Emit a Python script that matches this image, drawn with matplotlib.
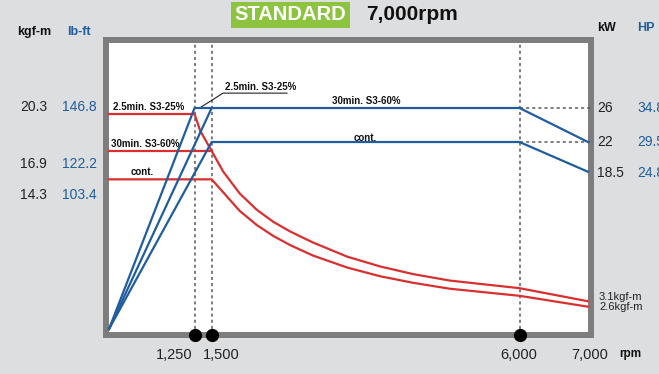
import matplotlib.pyplot as plt

plt.rcParams['font.family'] = ['Liberation Sans', 'DejaVu Sans']

RED = '#d9302f'
BLUE = '#1f5d9e'
GRID = '#5a5a5a'

# torque curves (kgf-m) vs rpm
rpm_s3_25 = [0, 1250, 1330, 1410, 1500, 1670, 1910, 2160, 2400, 2650, 2980, 3480, 3960, 4440, 4980, 6000, 7000]
tq_s3_25 = [20.3, 20.3, 18.8, 17.9, 16.9, 15.0, 13.0, 11.5, 10.4, 9.5, 8.5, 7.2, 6.3, 5.6, 5.0, 4.3, 3.1]
rpm_s3_60 = [0, 1500]
tq_s3_60 = [16.9, 16.9]
rpm_cont = [0, 1500, 1670, 1910, 2160, 2400, 2650, 2980, 3480, 3960, 4440, 4980, 6000, 7000]
tq_cont = [14.3, 14.3, 13.1, 11.4, 10.1, 9.1, 8.25, 7.3, 6.2, 5.4, 4.8, 4.25, 3.6, 2.6]

# power curves (kW) vs rpm
rpm_p_s3_25 = [0, 1250, 6000, 7000]
pw_p_s3_25 = [0, 26, 26, 22]
rpm_p_s3_60 = [0, 1500]
pw_p_s3_60 = [0, 26]
rpm_p_cont = [0, 1500, 6000, 7000]
pw_p_cont = [0, 22, 22, 18.5]

knee_rpm = [1250, 1500, 6000]
knee_labels = ['1,250', '1,500', '6,000']
torque_ticks = ['20.3', '16.9', '14.3']
lbft_ticks = ['146.8', '122.2', '103.4']
kw_ticks = ['26', '22', '18.5']
hp_ticks = ['34.8', '29.5', '24.8']

W, H = 659, 374
fig = plt.figure(figsize=(W / 100, H / 100), dpi=100)
fig.patch.set_facecolor('#dddedf')


def fx(x, y):
    return x / W, 1 - y / H


ax = fig.add_axes([106 / W, 1 - 335 / H, 485 / W, 295 / H])
ax.set_xlim(-44, 7044)
ax.set_ylim(0, 27.1)
ax.set_facecolor('white')
ax.set_xticks([])
ax.set_yticks([])
for s in ax.spines.values():
    s.set_color('#7d7d7d')
    s.set_linewidth(4.3)

ax2 = ax.twinx()
ax2.set_ylim(-0.7, 34.0)
ax2.set_yticks([])
for s in ax2.spines.values():
    s.set_visible(False)

# dotted guides
for r in knee_rpm:
    ax.axvline(r, color=GRID, lw=1.1, ls=(0, (2, 2)), zorder=1)
ax2.plot([6000, 7044], [26, 26], color=GRID, lw=1.1, ls=(0, (2, 2)))
ax2.plot([6000, 7044], [22, 22], color=GRID, lw=1.1, ls=(0, (2, 2)))

# torque (red)
for xs, ys in [(rpm_s3_25, tq_s3_25), (rpm_s3_60, tq_s3_60), (rpm_cont, tq_cont)]:
    ax.plot(xs, ys, color=RED, lw=1.6, zorder=3, solid_joinstyle='round')

# power (blue)
for xs, ys in [(rpm_p_s3_25, pw_p_s3_25), (rpm_p_s3_60, pw_p_s3_60), (rpm_p_cont, pw_p_cont)]:
    ax2.plot(xs, ys, color=BLUE, lw=1.6, zorder=4)

# knee dots on the axis
ax.plot(knee_rpm, [0] * 3, 'o', color='black', ms=8.5, clip_on=False, zorder=10)

# labels inside the chart
lab = dict(fontsize=7, fontweight='bold', color='#111111')
ax.text(58, 20.95, '2.5min. S3-25%', ha='left', va='center', **lab)
ax.text(29, 17.55, '30min. S3-60%', ha='left', va='center', **lab)
ax.text(321, 14.98, 'cont.', ha='left', va='center', **lab)
ax2.text(1695, 28.5, '2.5min. S3-25%', ha='left', va='center', **lab)
ax2.plot([1344, 1666, 2601], [26.1, 27.75, 27.75], color='#222222', lw=0.8)
ax2.text(3756, 26.8, '30min. S3-60%', ha='center', va='center', **lab)
ax2.text(3741, 22.5, 'cont.', ha='center', va='center', **lab)

# title
fig.text(*fx(290, 15), 'STANDARD', ha='center', va='center', fontsize=14.5,
         fontweight='bold', color='white',
         bbox=dict(boxstyle='square,pad=0.18', fc='#8cc43f', ec='none'))
fig.text(*fx(366, 15), '7,000rpm', ha='left', va='center', fontsize=15,
         fontweight='bold', color='#111111')

# left scales
fig.text(*fx(17, 32), 'kgf-m', ha='left', va='center', fontsize=9, fontweight='bold', color='#111111')
fig.text(*fx(67, 32), 'lb-ft', ha='left', va='center', fontsize=9, fontweight='bold', color=BLUE)
for y, t1, t2 in zip([107, 164, 195], torque_ticks, lbft_ticks):
    fig.text(*fx(47, y), t1, ha='right', va='center', fontsize=10, color='#222222')
    fig.text(*fx(97, y), t2, ha='right', va='center', fontsize=10, color=BLUE)

# right scales (HP values run off the edge, as in the original)
fig.text(*fx(597, 28), 'kW', ha='left', va='center', fontsize=9, fontweight='bold', color='#111111')
fig.text(*fx(637, 28), 'HP', ha='left', va='center', fontsize=9, fontweight='bold', color=BLUE)
for y, t1, t2 in zip([108, 142, 173], kw_ticks, hp_ticks):
    fig.text(*fx(597, y), t1, ha='left', va='center', fontsize=10, color='#222222')
    fig.text(*fx(637, y), t2, ha='left', va='center', fontsize=10, color=BLUE)

fig.text(*fx(599, 297), '3.1kgf-m', ha='left', va='center', fontsize=8, color='#222222')
fig.text(*fx(599, 307), '2.6kgf-m', ha='left', va='center', fontsize=8, color='#222222')

# bottom rpm labels
for x, t in zip([174, 221, 519], knee_labels):
    fig.text(*fx(x, 355), t, ha='center', va='center', fontsize=10.5, color='#222222')
fig.text(*fx(590, 355), '7,000', ha='center', va='center', fontsize=10.5, color='#222222')
fig.text(*fx(630, 354), 'rpm', ha='center', va='center', fontsize=8.5, fontweight='bold', color='#111111')

fig.savefig('out.png', dpi=100, facecolor=fig.get_facecolor())
